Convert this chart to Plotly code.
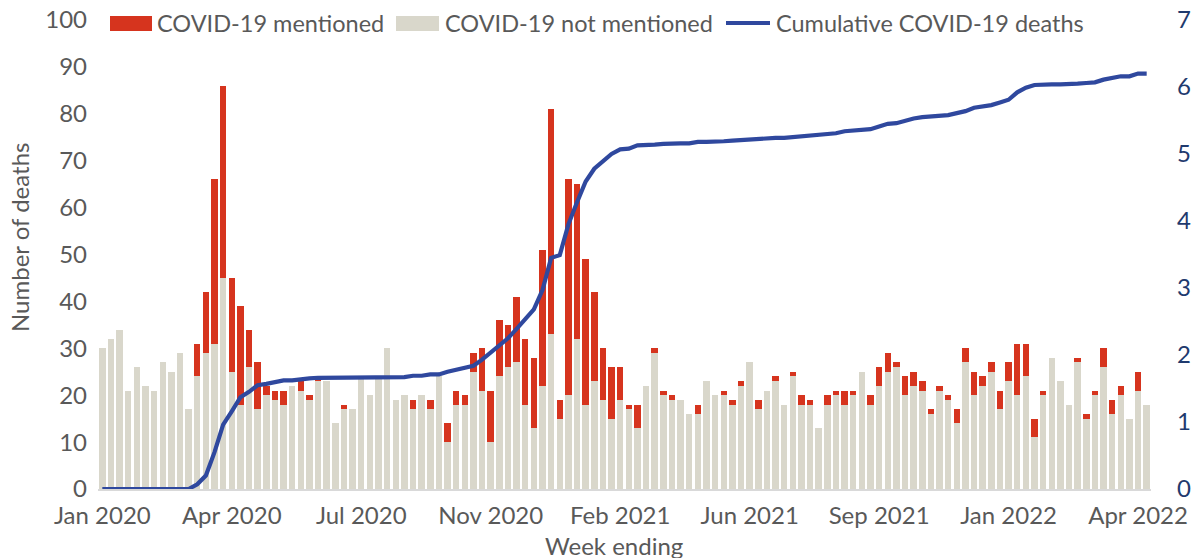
import plotly.graph_objects as go
import pandas as pd

# ---- data ----
week_ending = pd.date_range("2020-01-03", periods=122, freq="7D")

not_mentioned = [30, 32, 34, 21, 26, 22, 21, 27, 25, 29,
                 17, 24, 29, 31, 45, 25, 18, 26, 17, 20,
                 19, 18, 22, 21, 19, 23, 23, 14, 17, 17,
                 24, 20, 24, 30, 19, 20, 17, 20, 17, 24,
                 10, 18, 18, 25, 21, 10, 24, 26, 27, 18,
                 13, 22, 33, 15, 20, 32, 18, 23, 19, 15,
                 19, 17, 13, 22, 29, 20, 19, 19, 16, 16,
                 23, 20, 20, 18, 22, 27, 17, 21, 23, 18,
                 24, 18, 18, 13, 18, 20, 18, 20, 25, 18,
                 22, 25, 26, 20, 22, 21, 16, 21, 19, 14,
                 27, 20, 22, 25, 17, 23, 20, 24, 11, 20,
                 28, 23, 18, 27, 15, 20, 26, 16, 20, 15,
                 21, 18]

mentioned = [0, 0, 0, 0, 0, 0, 0, 0, 0, 0,
             0, 7, 13, 35, 41, 20, 21, 8, 10, 2,
             2, 3, 0, 2, 1, 1, 0, 0, 1, 0,
             0, 0, 0, 0, 0, 0, 2, 0, 2, 0,
             4, 3, 2, 4, 9, 11, 12, 9, 14, 14,
             15, 29, 48, 4, 46, 33, 31, 19, 11, 11,
             7, 1, 5, 0, 1, 1, 1, 0, 0, 2,
             0, 0, 1, 1, 1, 0, 2, 0, 1, 0,
             1, 2, 1, 0, 2, 1, 3, 1, 0, 2,
             4, 4, 1, 4, 3, 2, 1, 1, 1, 3,
             3, 5, 2, 2, 4, 4, 11, 7, 4, 1,
             0, 0, 0, 1, 1, 1, 4, 3, 2, 0,
             4, 0]

cumulative = [0, 0, 0, 0, 0, 0, 0, 0, 0, 0,
              0, 7, 20, 55, 96, 116, 137, 145, 155, 157,
              159, 162, 162, 164, 165, 166, 166, 166, 167, 167,
              167, 167, 167, 167, 167, 167, 169, 169, 171, 171,
              175, 178, 180, 184, 193, 204, 216, 225, 239, 253,
              268, 297, 345, 349, 395, 428, 459, 478, 489, 500,
              507, 508, 513, 513, 514, 515, 516, 516, 516, 518,
              518, 518, 519, 520, 521, 521, 523, 523, 524, 524,
              525, 527, 528, 528, 530, 531, 534, 535, 535, 537,
              541, 545, 546, 550, 553, 555, 556, 557, 558, 561,
              564, 569, 571, 573, 577, 581, 592, 599, 603, 604,
              604, 604, 604, 605, 606, 607, 611, 614, 616, 616,
              620, 620]

tick_labels = ["Jan 2020", "Apr 2020", "Jul 2020", "Nov 2020", "Feb 2021",
               "Jun 2021", "Sep 2021", "Jan 2022", "Apr 2022"]
tick_dates = list(week_ending[::15])

series_names = ["COVID-19 mentioned", "COVID-19 not mentioned", "Cumulative COVID-19 deaths"]

# ---- style ----
RED = "#D6341E"
BEIGE = "#D9D7CB"
BLUE = "#2F489E"
NAVY = "#1F3A6E"
GRAY = "#595959"
FONT = "Lato"

W, H = 1191, 558
ML, MR, MT, MB = 98, 40, 20, 69
PW, PH = W - ML - MR, H - MT - MB


def px_x(p):
    return (p - ML) / PW


def px_y(p):
    return (H - MB - p) / PH


fig = go.Figure()
fig.add_trace(go.Bar(x=week_ending, y=not_mentioned, name=series_names[1],
                     marker=dict(color=BEIGE, line=dict(width=0)), showlegend=False))
fig.add_trace(go.Bar(x=week_ending, y=mentioned, name=series_names[0],
                     marker=dict(color=RED, line=dict(width=0)), showlegend=False))
fig.add_trace(go.Scatter(x=week_ending, y=cumulative, name=series_names[2], yaxis="y2",
                         mode="lines", line=dict(color=BLUE, width=4.2), showlegend=False))

half = pd.Timedelta(days=3.5)
fig.update_layout(
    width=W, height=H,
    margin=dict(l=ML, r=MR, t=MT, b=MB, autoexpand=False),
    barmode="stack", bargap=0.25,
    plot_bgcolor="white", paper_bgcolor="white",
    font=dict(family=FONT, size=24, color=GRAY),
    xaxis=dict(type="date", range=[week_ending[0] - half, week_ending[-1] + half],
               tickvals=tick_dates, ticktext=tick_labels, ticks="",
               showgrid=False, zeroline=False, showline=True,
               linecolor="#D9D9D9", linewidth=2,
               tickfont=dict(family=FONT, size=24, color=GRAY),
               ticklabelstandoff=4, automargin=False),
    yaxis=dict(range=[0, 100], dtick=10, showgrid=False, zeroline=False,
               showline=False, ticks="",
               tickfont=dict(family=FONT, size=24, color=GRAY),
               ticklabelstandoff=10, automargin=False),
    yaxis2=dict(range=[0, 700], dtick=100, overlaying="y", side="right",
                showgrid=False, zeroline=False, showline=False, ticks="",
                tickfont=dict(family=FONT, size=24, color=NAVY),
                ticklabelstandoff=25, automargin=False),
)

# axis titles
fig.add_annotation(text="Number of deaths", x=px_x(20), y=px_y(238), xref="paper", yref="paper",
                   xanchor="center", yanchor="middle",
                   textangle=-90, showarrow=False, font=dict(family=FONT, size=24, color=GRAY))
fig.add_annotation(text="Week ending", x=px_x(614), y=px_y(545), xref="paper", yref="paper",
                   xanchor="center", yanchor="middle",
                   showarrow=False, font=dict(family=FONT, size=24, color=GRAY))

# legend (drawn as swatches + text)
swatches = [(110, 152, RED), (396, 439, BEIGE)]
for x0, x1, c in swatches:
    fig.add_shape(type="rect", xref="paper", yref="paper",
                  x0=px_x(x0), x1=px_x(x1), y0=px_y(31), y1=px_y(16),
                  fillcolor=c, line=dict(width=0), layer="above")
fig.add_shape(type="line", xref="paper", yref="paper",
              x0=px_x(726), x1=px_x(770), y0=px_y(23), y1=px_y(23),
              line=dict(color=BLUE, width=4), layer="above")
for xs, name in zip([155, 443, 774], series_names):
    fig.add_annotation(text=name, x=px_x(xs), y=px_y(23), xref="paper", yref="paper",
                       xanchor="left", yanchor="middle", showarrow=False,
                       font=dict(family=FONT, size=23.5, color=GRAY))

fig.write_html("out.html", config={"displayModeBar": False},
               post_script="document.body.style.margin='0';document.body.style.overflow='hidden';")
